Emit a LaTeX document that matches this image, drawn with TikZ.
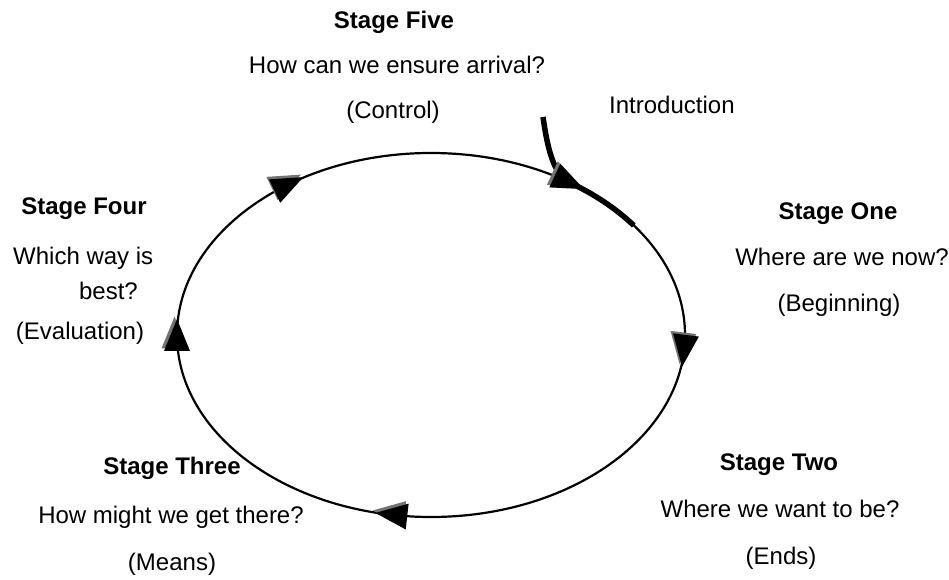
\documentclass[tikz,border=0pt]{standalone}
\usepackage{fontspec}
\setmainfont{Liberation Sans}
\definecolor{shadowgray}{gray}{0.45}
\newcommand{\cwtri}[1]{%
  \pgfmathsetmacro{\tpx}{431+254*cos(#1)}%
  \pgfmathsetmacro{\tpy}{245+182*sin(#1)}%
  \pgfmathsetmacro{\tang}{atan2(-182*cos(#1),254*sin(#1))}%
  \fill[shadowgray,shift={(\tpx-2.5,\tpy+2.5)},rotate=\tang] (16,0) -- (-16,13) -- (-16,-13) -- cycle;
  \fill[black,shift={(\tpx,\tpy)},rotate=\tang] (16,0) -- (-16,13) -- (-16,-13) -- cycle;}
\begin{document}
\begin{tikzpicture}[x=1pt,y=1pt,
  lbl/.style={font=\fontsize{24}{28}\selectfont, inner sep=0pt, anchor=base},
  ttl/.style={lbl, font=\fontsize{24}{28}\selectfont\bfseries}]
\useasboundingbox (0,0) rectangle (949,580);
% cycle
\draw[line width=2.2pt] (431,245) ellipse [x radius=254, y radius=182];
% introduction line
\coordinate (introstart) at (543,463);
\draw[line width=5.5pt] (introstart) .. controls (547,435) and (553,405) .. (569.3,397.6)
  arc[start angle=57, end angle=37, x radius=254, y radius=182];
% arrowheads (clockwise)
\cwtri{124}
\cwtri{57}
\cwtri{355}
\cwtri{261}
\cwtri{180}
% Stage Five
\node[ttl] (s5) at (394,551) {Stage Five};
\node[lbl] (q5) at (397,506) {How can we ensure arrival?};
\node[lbl] (c5) at (393,461) {(Control)};
\node[lbl, anchor=base west] (intro) at (609,466) {Introduction};
% Stage Four
\node[ttl] (s4) at (84,365) {Stage Four};
\node[lbl, anchor=base west] (q4a) at (13,315) {Which way is};
\node[lbl, anchor=base east] (q4b) at (138,280) {best?};
\node[lbl] (c4) at (80,240) {(Evaluation)};
% Stage One
\node[ttl] (s1) at (838,360) {Stage One};
\node[lbl] (q1) at (842,314) {Where are we now?};
\node[lbl] (c1) at (839,268) {(Beginning)};
% Stage Two
\node[ttl] (s2) at (779,109) {Stage Two};
\node[lbl] (q2) at (780,62) {Where we want to be?};
\node[lbl] (c2) at (781,15) {(Ends)};
% Stage Three
\node[ttl] (s3) at (172,105) {Stage Three};
\node[lbl] (q3) at (171,56) {How might we get there?};
\node[lbl] (c3) at (172,9) {(Means)};
\end{tikzpicture}
\end{document}
